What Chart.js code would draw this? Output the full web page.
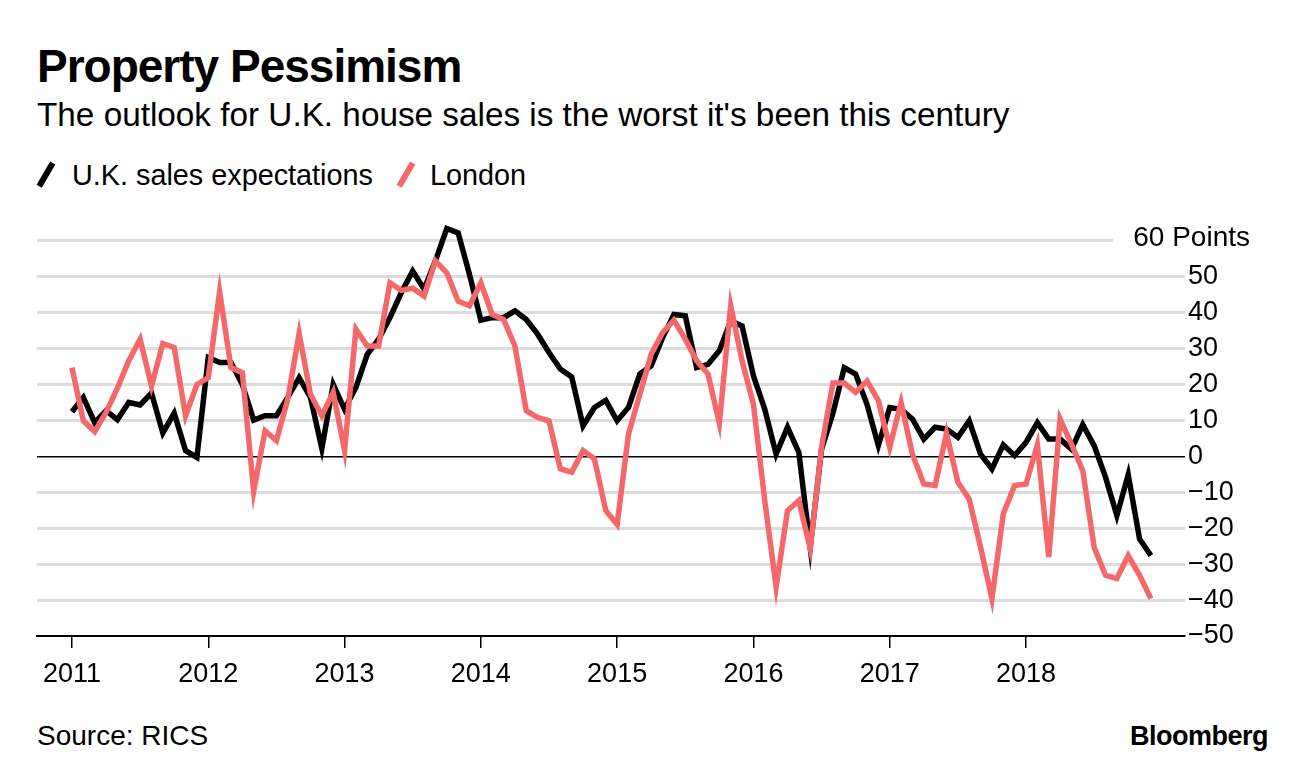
<!DOCTYPE html>
<html lang="en">
<head>
    <meta charset="UTF-8">
    <title>Property Pessimism</title>
    <script src="https://cdn.jsdelivr.net/npm/chart.js"></script>
    <style>
        body {
            margin: 0;
            width: 1296px;
            height: 768px;
            background: #fff;
            font-family: 'Liberation Sans', Arial, sans-serif;
            color: #000;
            position: relative;
            overflow: hidden;
        }
        .txt {
            position: absolute;
            line-height: 1;
            white-space: nowrap;
        }
        .title { left: 37px; top: 43px; font-size: 46px; font-weight: bold; letter-spacing: -1px; }
        .subtitle { left: 37px; top: 98px; font-size: 33.3px; }
        .legend { top: 161px; font-size: 28.8px; }
        .swatch {
            position: absolute;
            top: 161px;
            width: 5.5px;
            height: 27px;
            transform: rotate(30deg);
        }
        .source { left: 37px; top: 722px; font-size: 28px; }
        .brand { right: 28px; top: 723px; font-size: 27px; font-weight: bold; letter-spacing: -0.5px; }
        .unit {
            right: 46px;
            top: 223px;
            font-size: 28px;
            background: #fff;
            padding: 0 0 0 20px;
        }
        #chart-wrap {
            position: absolute;
            left: 0;
            top: 200px;
            width: 1296px;
            height: 500px;
        }
    </style>
</head>
<body>
    <div class="txt title">Property Pessimism</div>
    <div class="txt subtitle">The outlook for U.K. house sales is the worst it's been this century</div>

    <div class="swatch" style="left:43px; background:#000;"></div>
    <div class="txt legend" style="left:72px;">U.K. sales expectations</div>
    <div class="swatch" style="left:403px; background:#f4686a;"></div>
    <div class="txt legend" style="left:430px;">London</div>

    <div id="chart-wrap"><canvas id="chart"></canvas></div>
    <div class="txt unit">60 Points</div>

    <div class="txt source">Source: RICS</div>
    <div class="txt brand">Bloomberg</div>

    <script>
        // Monthly readings, Jan 2011 - Dec 2018 (net balance, points)
        const years = ['2011', '2012', '2013', '2014', '2015', '2016', '2017', '2018'];
        const yTicks = [-50, -40, -30, -20, -10, 0, 10, 20, 30, 40, 50, 60];

        const ukSales = [
            12.4, 16.4, 9.4, 12.7, 10.2, 15, 14.3, 17.6, 6.5, 12, 1.6, -0.3,
            27.5, 26.1, 26.1, 20, 10.1, 11.3, 11.3, 16.4, 21.9, 16.4, 2.2, 20,
            13.1, 19.2, 28.4, 32.6, 38.6, 45.6, 51.6, 46.5, 54.4, 63.4, 62.2, 50.6,
            37.9, 38.6, 38.6, 40.5, 38.1, 34, 28.9, 24.3, 22.1, 8.5, 13.6, 15.6,
            9.9, 13.6, 22.9, 25.2, 33, 39.5, 39.1, 24.7, 25.6, 29.4, 37.7, 36.3,
            22.4, 13.1, 0.6, 8.1, 1.1, -25.3, 2, 12, 24.7, 22.9, 14.5, 3,
            13.6, 13.1, 10.4, 4.8, 8.1, 7.6, 5.3, 9.9, 0.6, -3.5, 3.2, 0.2,
            3.9, 9.4, 4.8, 4.8, 2, 8.8, 3, -5.8, -16.5, -5.1, -23, -27.6
        ];
        const london = [
            24.7, 9.9, 6.9, 12.2, 19, 26.6, 32.6, 19.6, 31.4, 30.3, 11.3, 20,
            21.9, 45.8, 24.7, 23.3, -9.7, 7.1, 4.4, 15.9, 34.2, 17.3, 11.3, 17.8,
            1.6, 35.4, 30.7, 30.7, 48.3, 46.2, 46.8, 44.6, 54.4, 51.1, 43.2, 41.9,
            48.3, 39.5, 38.1, 30.7, 12.7, 10.8, 9.9, -3.5, -4.4, 1.6, -0.7, -15.1,
            -19, 6.2, 17.3, 28.4, 34.4, 37.9, 32.6, 26.6, 22.9, 9.2, 41.9, 26.6,
            14.5, -12.3, -36.4, -15.1, -12.3, -25.7, 2.5, 20.4, 20.4, 17.8, 21, 15.5,
            2.5, 15, 0.6, -7.7, -8.1, 6.4, -7.2, -11.9, -25.3, -39.6, -16, -8.1,
            -7.7, 3.2, -28, 10.4, 3.4, -4, -25.3, -33.1, -34, -27.6, -33.1, -39.6
        ];

        const toPoints = arr => arr.map((v, i) => ({ x: i, y: v }));
        const font = { family: "'Liberation Sans', Arial, sans-serif", size: 27 };

        new Chart(document.getElementById('chart'), {
            type: 'line',
            data: {
                datasets: [
                    {
                        label: 'U.K. sales expectations',
                        data: toPoints(ukSales),
                        borderColor: '#000',
                        borderWidth: 5.5,
                        pointRadius: 0,
                        tension: 0,
                        order: 1
                    },
                    {
                        label: 'London',
                        data: toPoints(london),
                        borderColor: '#f4686a',
                        borderWidth: 5.5,
                        pointRadius: 0,
                        tension: 0,
                        order: 0
                    }
                ]
            },
            options: {
                responsive: true,
                maintainAspectRatio: false,
                animation: false,
                layout: { padding: { left: 37, top: 17, right: 0, bottom: 0 } },
                plugins: {
                    legend: { display: false },
                    tooltip: { enabled: false }
                },
                scales: {
                    x: {
                        type: 'linear',
                        min: -3.08,
                        max: 98,
                        afterBuildTicks: s => { s.ticks = years.map((_, i) => ({ value: i * 12 })); },
                        afterFit: s => { s.height = 64; },
                        ticks: {
                            font: font,
                            color: '#000',
                            padding: 10,
                            maxRotation: 0,
                            autoSkip: false,
                            callback: v => years[v / 12]
                        },
                        grid: {
                            drawOnChartArea: false,
                            drawTicks: true,
                            tickLength: 12,
                            color: '#000',
                            lineWidth: 1.5
                        },
                        border: { display: true, color: '#000', width: 2 }
                    },
                    y: {
                        position: 'right',
                        min: -50,
                        max: 66,
                        afterBuildTicks: s => { s.ticks = yTicks.map(v => ({ value: v })); },
                        afterFit: s => { s.width = 111; },
                        ticks: {
                            font: font,
                            color: '#000',
                            padding: 3,
                            callback: v => (v === 60 ? '' : (v < 0 ? '\u2212' + Math.abs(v) : String(v)))
                        },
                        grid: {
                            drawTicks: false,
                            color: ctx => {
                                const v = ctx.tick.value;
                                if (v === 0) return '#000';
                                if (v === -50) return 'rgba(0,0,0,0)';
                                return '#dcdcdc';
                            },
                            lineWidth: ctx => (ctx.tick.value === 0 ? 1.5 : 3)
                        },
                        border: { display: false }
                    }
                }
            }
        });
    </script>
</body>
</html>
